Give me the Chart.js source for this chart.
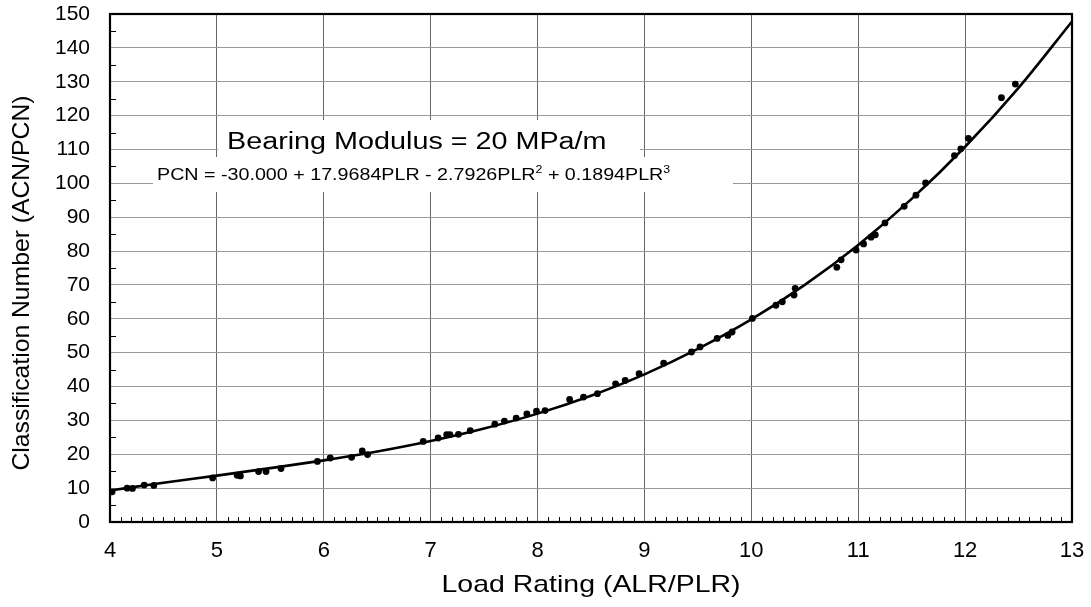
<!DOCTYPE html>
<html>
<head>
<meta charset="utf-8">
<script src="https://cdn.jsdelivr.net/npm/chart.js@4.4.1/dist/chart.umd.min.js"></script>
<style>
  body { margin: 0; background: #fff; }
  #wrap { width: 1091px; height: 607px; }
</style>
</head>
<body>
<div id="wrap"><canvas id="myChart" width="1091" height="607"></canvas></div>
<script>
// fitted curve
const curveX = [4, 4.5, 5, 5.5, 6, 6.5, 7, 7.5, 8, 8.5, 9, 9.5, 10, 10.5, 11, 11.5, 12, 12.5, 13];
const curveY = [9.3, 11.6, 13.7, 15.9, 18.2, 20.8, 23.9, 27.6, 32.0, 37.3, 43.6, 51.1, 59.8, 70.0, 81.8, 95.4, 110.8, 128.2, 147.8];

// measured points
const pointX = [4.02, 4.16, 4.21, 4.32, 4.41, 4.96, 5.19, 5.22, 5.39, 5.46,
  5.60, 5.94, 6.06, 6.26, 6.36, 6.41, 6.93, 7.07, 7.15, 7.18,
  7.26, 7.37, 7.60, 7.69, 7.80, 7.90, 7.99, 8.07, 8.30, 8.43,
  8.56, 8.73, 8.82, 8.95, 9.18, 9.44, 9.52, 9.68, 9.78, 9.82,
  10.01, 10.23, 10.29, 10.40, 10.41, 10.80, 10.84, 10.98, 11.05, 11.12,
  11.16, 11.25, 11.43, 11.54, 11.63, 11.90, 11.96, 12.03, 12.34, 12.47];
const pointY = [8.9, 10.0, 9.9, 10.9, 10.8, 13.0, 13.8, 13.6, 14.9, 14.9,
  15.8, 17.9, 18.9, 19.1, 21.0, 19.9, 23.8, 24.8, 25.8, 25.8,
  25.9, 27.0, 28.9, 29.8, 30.7, 31.9, 32.7, 32.9, 36.2, 36.9,
  37.9, 40.8, 41.8, 43.8, 46.9, 50.2, 51.7, 54.2, 55.1, 56.1,
  60.1, 64.0, 65.0, 67.0, 69.0, 75.2, 77.4, 80.3, 82.1, 84.1,
  84.8, 88.3, 93.2, 96.5, 100.1, 108.2, 110.2, 113.3, 125.3, 129.3];

const xTicks = [4, 5, 6, 7, 8, 9, 10, 11, 12, 13];
const yTicks = [0, 10, 20, 30, 40, 50, 60, 70, 80, 90, 100, 110, 120, 130, 140, 150];

const xTitle = 'Load Rating (ALR/PLR)';
const yTitle = 'Classification Number (ACN/PCN)';
const titleText = 'Bearing Modulus = 20 MPa/m';
const eqParts = [
  ['PCN = -30.000 + 17.9684PLR - 2.7926PLR', false],
  ['2', true],
  [' + 0.1894PLR', false],
  ['3', true]
];

const FONT = '"Liberation Sans", Arial, sans-serif';
Chart.defaults.font.family = FONT;
Chart.defaults.color = '#000';

// draw text stretched to a given width (the original is a bit wide)
function wideText(ctx, text, cx, cy, size, width, rot) {
  ctx.save();
  ctx.font = size + 'px ' + FONT;
  const w = ctx.measureText(text).width;
  ctx.translate(cx, cy);
  if (rot) ctx.rotate(rot);
  ctx.scale(width / w, 1);
  ctx.textAlign = 'center';
  ctx.textBaseline = 'middle';
  ctx.fillStyle = '#000';
  ctx.fillText(text, 0, 0);
  ctx.restore();
}

const decor = {
  id: 'decor',
  beforeDatasetsDraw(chart) {
    const { ctx, scales: { x, y } } = chart;
    ctx.save();
    // white boxes behind the text
    ctx.fillStyle = '#fff';
    ctx.fillRect(218, 120, 422, 38);
    ctx.fillRect(153, 157, 580, 35);

    ctx.fillStyle = '#000';
    ctx.textBaseline = 'alphabetic';
    ctx.font = '23px ' + FONT;
    ctx.save();
    ctx.translate(x.getPixelForValue(6.87), y.getPixelForValue(110.2));
    ctx.scale(1.25, 1);
    ctx.textAlign = 'center';
    ctx.fillText(titleText, 0, 0);
    ctx.restore();

    // equation with superscripts
    ctx.save();
    ctx.translate(x.getPixelForValue(4.44), y.getPixelForValue(101.1));
    ctx.scale(1.23, 1);
    ctx.textAlign = 'left';
    let cx = 0;
    eqParts.forEach(([t, sup]) => {
      ctx.font = (sup ? '10px ' : '16px ') + FONT;
      ctx.fillText(t, cx, sup ? -7 : 0);
      cx += ctx.measureText(t).width;
    });
    ctx.restore();
    ctx.restore();
  },
  afterDraw(chart) {
    const { ctx, chartArea: a, scales: { x, y } } = chart;
    ctx.save();
    ctx.strokeStyle = '#000';
    ctx.lineWidth = 1;
    ctx.beginPath();
    for (let i = 41; i < 130; i++) {
      if (i % 10 === 0) continue;
      const px = Math.round(x.getPixelForValue(i / 10)) + 0.5;
      ctx.moveTo(px, a.bottom);
      ctx.lineTo(px, a.bottom - 5);
    }
    for (let v = 5; v < 150; v += 10) {
      const py = Math.round(y.getPixelForValue(v)) + 0.5;
      ctx.moveTo(a.left, py);
      ctx.lineTo(a.left + 6, py);
    }
    ctx.stroke();
    ctx.lineWidth = 2.2;
    ctx.strokeRect(a.left, a.top, a.right - a.left, a.bottom - a.top);
    ctx.restore();

    // axis titles
    wideText(ctx, xTitle, (a.left + a.right) / 2, 585, 24, 299, 0);
    wideText(ctx, yTitle, 22, 283, 24, 375, -Math.PI / 2);
  }
};

const ctx = document.getElementById('myChart').getContext('2d');
let myChart = new Chart(ctx, {
  data: {
    datasets: [
      {
        type: 'line',
        data: curveX.map((v, i) => ({ x: v, y: curveY[i] })),
        borderColor: '#000',
        borderWidth: 2.6,
        pointRadius: 0,
        cubicInterpolationMode: 'monotone',
        fill: false
      },
      {
        type: 'scatter',
        data: pointX.map((v, i) => ({ x: v, y: pointY[i] })),
        backgroundColor: '#000',
        borderWidth: 0,
        pointRadius: 3.4
      }
    ]
  },
  plugins: [decor],
  options: {
    responsive: false,
    animation: false,
    layout: { padding: { top: 14, right: 19, left: 0, bottom: 0 } },
    plugins: { legend: { display: false }, tooltip: { enabled: false } },
    scales: {
      x: {
        type: 'linear',
        min: 4,
        max: 13,
        afterFit(s) { s.height = 85; s.paddingLeft = 0; s.paddingRight = 0; },
        afterBuildTicks(s) { s.ticks = xTicks.map(v => ({ value: v })); },
        ticks: { color: '#000', font: { size: 22 }, padding: 16, maxRotation: 0 },
        grid: { color: '#666', lineWidth: 1, drawTicks: false },
        border: { display: false }
      },
      y: {
        type: 'linear',
        min: 0,
        max: 150,
        afterFit(s) { s.width = 110; s.paddingTop = 0; s.paddingBottom = 0; },
        afterBuildTicks(s) { s.ticks = yTicks.map(v => ({ value: v })); },
        ticks: { color: '#000', font: { size: 21 }, padding: 20 },
        grid: { color: '#999', lineWidth: 1, drawTicks: false },
        border: { display: false }
      }
    }
  }
});
</script>
</body>
</html>
